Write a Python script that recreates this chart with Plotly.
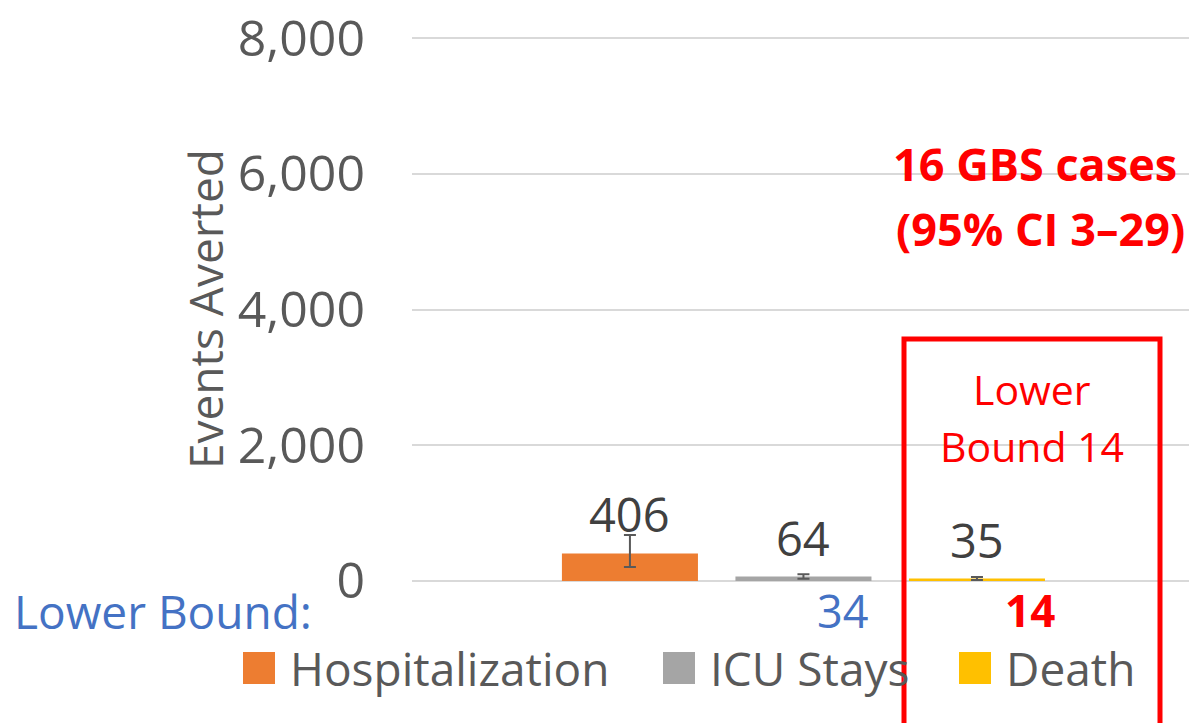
import plotly.graph_objects as go

# ---- data ----
categories = ["Hospitalization", "ICU Stays", "Death"]
values = [406, 64, 35]
err_plus = [272, 36, 23]
err_minus = [200, 30, 21]
colors = ["#ED7D31", "#A5A5A5", "#FFC000"]
lower_bounds = ["", "34", "14"]
y_ticks = [0, 2000, 4000, 6000, 8000]

W, H = 1189, 723
L, R, T, B = 412, 0, 36, 140
PW, PH = W - L - R, H - T - B

def px(x):
    return (x - L) / PW

def py(y):
    return (H - B - y) / PH

FONT = "Open Sans"
fig = go.Figure()
for i, cat in enumerate(categories):
    fig.add_trace(go.Bar(
        x=[cat], y=[values[i]], name=cat, width=0.784,
        marker=dict(color=colors[i], line=dict(width=0)),
        error_y=dict(type="data", array=[err_plus[i]], arrayminus=[err_minus[i]],
                     color="#595959", thickness=2, width=6, visible=True),
        showlegend=False,
    ))
    fig.add_annotation(x=cat, y=values[i], xref="x", yref="y", text=str(values[i]),
                       showarrow=False, xanchor="center", yanchor="bottom", yshift=5,
                       font=dict(family=FONT, size=47, color="#404040"))

annotations = []
annotations.append(dict(x=px(12), y=py(611), text="Lower Bound:", xanchor="left",
                        font=dict(family=FONT, size=46, color="#4472C4")))
annotations.append(dict(x=px(842), y=py(610), text=lower_bounds[1],
                        font=dict(family=FONT, size=45, color="#4472C4")))
annotations.append(dict(x=px(1030), y=py(610), text="<b>" + lower_bounds[2] + "</b>",
                        font=dict(family=FONT, size=44, color="#FF0000")))
annotations.append(dict(x=px(1035), y=py(163), text="<b>16 GBS cases</b>",
                        font=dict(family=FONT, size=45, color="#FF0000")))
annotations.append(dict(x=px(1040), y=py(228), text="<b>(95% CI 3–29)</b>",
                        font=dict(family=FONT, size=45, color="#FF0000")))
annotations.append(dict(x=px(1032), y=py(389), text="Lower",
                        font=dict(family=FONT, size=41, color="#FF0000")))
annotations.append(dict(x=px(1032), y=py(446), text="Bound 14",
                        font=dict(family=FONT, size=41, color="#FF0000")))
annotations.append(dict(x=px(205), y=py(309), text="Events Averted", textangle=-90,
                        font=dict(family=FONT, size=46, color="#595959")))
leg_x = [243, 663, 959]
for i, cat in enumerate(categories):
    annotations.append(dict(x=px(leg_x[i] + 45), y=py(668), text=cat, xanchor="left",
                            font=dict(family=FONT, size=46, color="#595959")))

for a in annotations:
    a.setdefault("xref", "paper")
    a.setdefault("yref", "paper")
    a.setdefault("showarrow", False)
    a.setdefault("xanchor", "center")
    a.setdefault("yanchor", "middle")
    fig.add_annotation(**a)

shapes = []
for i in range(3):
    shapes.append(dict(type="rect", xref="paper", yref="paper",
                       x0=px(leg_x[i]), x1=px(leg_x[i] + 32), y0=py(684), y1=py(652),
                       fillcolor=colors[i], line=dict(width=0)))
shapes.append(dict(type="rect", xref="paper", yref="paper",
                   x0=px(904), x1=px(1160), y0=py(339), y1=py(740),
                   line=dict(color="#FF0000", width=5), fillcolor="rgba(0,0,0,0)"))
fig.update_layout(shapes=shapes)

fig.update_layout(
    width=W, height=H,
    margin=dict(l=L, r=R, t=T, b=B, autoexpand=False),
    plot_bgcolor="white", paper_bgcolor="white",
    barmode="overlay",
    xaxis=dict(range=[-1.256, 3.222], showticklabels=False, showgrid=False,
               zeroline=False, showline=False, fixedrange=True),
    yaxis=dict(range=[-30, 8030], tickvals=y_ticks, tickformat=",d",
               showgrid=True, gridcolor="#D9D9D9", gridwidth=2,
               zeroline=False, showline=False, ticks="",
               ticklabelstandoff=46,
               tickfont=dict(family=FONT, size=50, color="#595959")),
    showlegend=False,
)

fig.write_html("out.html", config={"displayModeBar": False},
               post_script="document.body.style.margin='0';document.body.style.overflow='hidden';")
